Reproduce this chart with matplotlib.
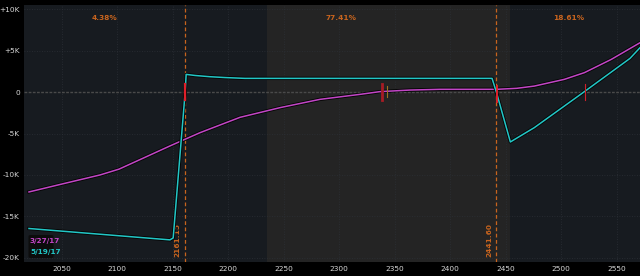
import matplotlib
matplotlib.use("Agg")
import matplotlib.pyplot as plt
import matplotlib.patheffects as pe
from matplotlib.patches import FancyBboxPatch

# ---- data ----
t1_x = [2020.5, 2050, 2084.5, 2101.6, 2129.5, 2147.5, 2161, 2174.6, 2210.6, 2246.7,
        2282.7, 2318.7, 2336.7, 2363.8, 2390.8, 2442, 2460, 2475.8, 2502.8, 2520.9,
        2545, 2571]
t1_y = [-12050, -11100, -10000, -9300, -7600, -6500, -5700, -4900, -3050, -1880,
        -880, -280, 50, 240, 330, 330, 450, 720, 1530, 2340, 3930, 5950]

exp_x = [2020.5, 2147.5, 2150.4, 2161.2, 2162.1, 2170, 2183.5, 2197, 2215, 2437.7,
         2441.6, 2454.2, 2475.8, 2520.9, 2562, 2571]
exp_y = [-16460, -17830, -17600, 0, 2130, 2000, 1850, 1750, 1650, 1650,
         0, -6020, -4290, 50, 4060, 5350]

breakevens = [2161.15, 2441.60]
be_labels = ["2161.15", "2441.60"]
region_bounds = [2016, 2161.15, 2441.60, 2571]
region_pcts = ["4.38%", "77.41%", "18.61%"]
mid_zone = [2235, 2454]
series_names = ["3/27/17", "5/19/17"]
xticks = [2050, 2100, 2150, 2200, 2250, 2300, 2350, 2400, 2450, 2500, 2550]
yticks = [10000, 5000, 0, -5000, -10000, -15000, -20000]
ytick_labels = ["+10K", "+5K", "0", "-5K", "-10K", "-15K", "-20K"]
marker_x = [2161.0, 2338.5, 2343.5, 2441.8, 2521.0]

# ---- style ----
DARK = "#171b20"
MID = "#242424"
CYAN = "#22c6c6"
MAG = "#c246c6"
ORANGE = "#c8641e"
TXT = "#d8d8d8"

fig = plt.figure(figsize=(6.4, 2.76), dpi=100, facecolor="black")
ax = fig.add_axes([24 / 640, 14 / 276, 616 / 640, 257 / 276])
ax.set_facecolor(DARK)
ax.set_xlim(2016, 2571)
ax.set_ylim(-20500, 10500)

ax.axvspan(mid_zone[0], mid_zone[1], color=MID, zorder=0, lw=0)

# grid
for xt in xticks:
    ax.axvline(xt, color="#2c3036", lw=0.6, ls=(0, (1, 2)), zorder=0.5)
for yt in yticks:
    if yt != 0:
        ax.axhline(yt, color="#2c3036", lw=0.6, ls=(0, (1, 2)), zorder=0.5)
ax.axhline(0, color="#4a4a4a", lw=1.0, ls=(0, (2, 1)), zorder=0.6)

# breakeven lines
for b, lab in zip(breakevens, be_labels):
    ax.axvline(b, color=ORANGE, lw=0.9, ls=(0, (3, 2)), zorder=1)
    ax.text(b - 4, -19900, lab, rotation=90, color=ORANGE, fontsize=5.3,
            ha="right", va="bottom", fontweight="bold")

# region percentages
for i, p in enumerate(region_pcts):
    xc = (region_bounds[i] + region_bounds[i + 1]) / 2
    ax.text(xc, 8900, p, color=ORANGE, fontsize=5.3, ha="center", va="center",
            fontweight="bold")

shadow = [pe.Stroke(linewidth=2.4, foreground="#050505"), pe.Normal()]
ax.plot(t1_x, t1_y, color=MAG, lw=1.1, zorder=3, path_effects=shadow)
ax.plot(exp_x, exp_y, color=CYAN, lw=1.1, zorder=4, path_effects=shadow)

# markers at crossings
ax.plot([marker_x[0]] * 2, [-1000, 1000], color="#e0202a", lw=1.6, zorder=5)
ax.plot([marker_x[1]] * 2, [-1000, 1000], color="#a81c24", lw=2.0, zorder=5)
ax.plot([marker_x[2]] * 2, [-600, 700], color="#a07020", lw=0.8, zorder=5)
ax.plot([marker_x[3]] * 2, [-1200, 700], color="#e0202a", lw=1.4, zorder=5)
ax.plot([marker_x[4]] * 2, [-1000, 1000], color="#d0202a", lw=0.8, zorder=5)

# ticks
ax.set_xticks(xticks)
ax.set_xticklabels([str(v) for v in xticks])
ax.set_yticks(yticks)
ax.set_yticklabels(ytick_labels)
ax.tick_params(axis="both", colors=TXT, labelsize=5.3, length=0, pad=3)
for s in ax.spines.values():
    s.set_visible(False)

# legend
lg = FancyBboxPatch((28.5 / 640, (276 - 258) / 276), 25 / 640, 23 / 276,
                    boxstyle="round,pad=0,rounding_size=0.004",
                    transform=fig.transFigure, facecolor="#0c0c0c",
                    edgecolor="none", zorder=10)
fig.patches.append(lg)
fig.text(30 / 640, (276 - 241) / 276, series_names[0], color=MAG, fontsize=5.2,
         va="center", ha="left", fontweight="bold", zorder=11)
fig.text(30 / 640, (276 - 252) / 276, series_names[1], color=CYAN, fontsize=5.2,
         va="center", ha="left", fontweight="bold", zorder=11)

fig.savefig("out.png", dpi=100, facecolor="black")
